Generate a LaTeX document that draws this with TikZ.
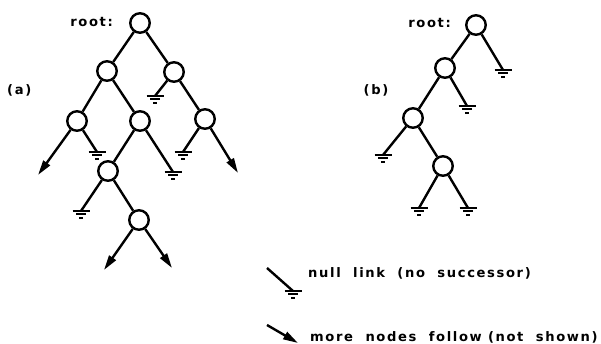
\documentclass[tikz,border=0pt]{standalone}
\usepackage{fontspec}
\setmainfont{DejaVu Sans}
\newfontfamily\lettering[LetterSpace=12.5]{DejaVu Sans}
\usetikzlibrary{arrows.meta}
\begin{document}
\begin{tikzpicture}[x=1pt,y=-1pt,
  treenode/.style={circle,draw,line width=2.4pt,minimum size=19.5pt,inner sep=0pt},
  lbl/.style={font=\lettering\fontsize{13.1}{15}\selectfont\bfseries,inner sep=0pt},
  link/.style={line width=2.4pt},
  more/.style={line width=2.4pt,-{Triangle[length=15pt,width=8pt]}},
  gnd/.pic={\draw[line width=2pt] (-8.5,0)--(8.5,0) (-5,3.4)--(5,3.4) (-1.8,6.8)--(1.8,6.8);}
]
\useasboundingbox (0,0) rectangle (601,344);
% ---------- tree (a)
\node[treenode] (ar) at (140,23) {};
\node[treenode] (a1) at (107,71) {};
\node[treenode] (a2) at (174,72) {};
\node[treenode] (a11) at (77,121) {};
\node[treenode] (a12) at (140,121) {};
\node[treenode] (a22) at (205,119) {};
\node[treenode] (a121) at (108,171) {};
\node[treenode] (a1212) at (139,220) {};
\coordinate (ga2) at (155,96);
\coordinate (ga11) at (97,152);
\coordinate (ga12) at (173,172);
\coordinate (ga22) at (183,152);
\coordinate (ga121) at (81,211);
\coordinate (ta11) at (38,175);
\coordinate (ta22) at (238,173);
\coordinate (ta1212l) at (104,270);
\coordinate (ta1212r) at (172,268);
\draw[link] (ar)--(a1);
\draw[link] (ar)--(a2);
\draw[link] (a1)--(a11);
\draw[link] (a1)--(a12);
\draw[link] (a2)--(ga2);
\draw[link] (a2)--(a22);
\draw[more] (a11)--(ta11);
\draw[link] (a11)--(ga11);
\draw[link] (a12)--(a121);
\draw[link] (a12)--(ga12);
\draw[link] (a22)--(ga22);
\draw[more] (a22)--(ta22);
\draw[link] (a121)--(ga121);
\draw[link] (a121)--(a1212);
\draw[more] (a1212)--(ta1212l);
\draw[more] (a1212)--(ta1212r);
\foreach \g in {ga2,ga11,ga12,ga22,ga121} \pic at (\g) {gnd};
\node[lbl,anchor=east] (rootA) at (113,22) {root:};
\node[lbl,anchor=west] (labA) at (7,90) {(a)};
% ---------- tree (b)
\node[treenode] (br) at (476,25) {};
\node[treenode] (b1) at (445,68) {};
\node[treenode] (b11) at (413,118) {};
\node[treenode] (b112) at (443,166) {};
\coordinate (gbr) at (503,70);
\coordinate (gb1) at (467,106);
\coordinate (gb11) at (383,155);
\coordinate (gb112l) at (419,208);
\coordinate (gb112r) at (468,208);
\draw[link] (br)--(b1);
\draw[link] (br)--(gbr);
\draw[link] (b1)--(b11);
\draw[link] (b1)--(gb1);
\draw[link] (b11)--(gb11);
\draw[link] (b11)--(b112);
\draw[link] (b112)--(gb112l);
\draw[link] (b112)--(gb112r);
\foreach \g in {gbr,gb1,gb11,gb112l,gb112r} \pic at (\g) {gnd};
\node[lbl,anchor=east] (rootB) at (451,23) {root:};
\node[lbl] (labB) at (376,90) {(b)};
% ---------- legend
\coordinate (l1s) at (267,268);
\coordinate (l1e) at (293,291);
\coordinate (l2s) at (267,325);
\coordinate (l2e) at (298,343);
\draw[link] (l1s)--(l1e);
\pic at (l1e) {gnd};
\draw[more] (l2s)--(l2e);
\node[lbl,anchor=west] (nullTxt) at (308,273) {null\ \ link\ \ (no\ \ successor)};
\node[lbl,anchor=west] (moreTxt) at (310,337) {more\ \ nodes\ \ follow\ (not\ \ shown)};
\end{tikzpicture}
\end{document}
